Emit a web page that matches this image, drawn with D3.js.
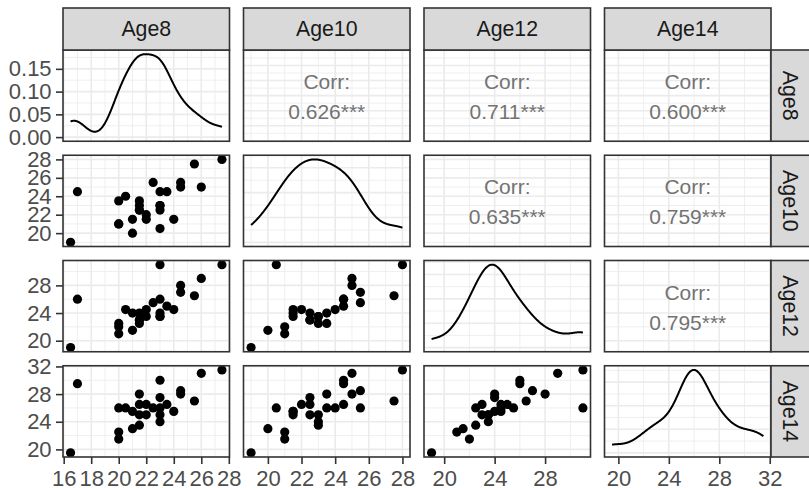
<!DOCTYPE html>
<html>
<head>
<meta charset="utf-8">
<script src="https://cdn.jsdelivr.net/npm/d3@7"></script>
<style>
  body { margin: 0; background: white; }
  text { font-family: "Liberation Sans", Arial, sans-serif; }
</style>
</head>
<body>
<div id="chart"></div>
<script>
// dental distance (mm) per subject at each age
const vars = ["Age8", "Age10", "Age12", "Age14"];
const age8  = [26, 21.5, 23, 25.5, 20, 24.5, 22, 24, 23, 27.5, 23, 21.5, 17, 22.5, 23, 22,
               21, 21, 20.5, 23.5, 21.5, 20, 21.5, 23, 20, 16.5, 24.5];
const age10 = [25, 22.5, 22.5, 27.5, 23.5, 25.5, 22, 21.5, 20.5, 28, 23, 23.5, 24.5, 25.5, 24.5, 21.5,
               20, 21.5, 24, 24.5, 23, 21, 22.5, 23, 21, 19, 25];
const age12 = [29, 23, 24, 26.5, 22.5, 27, 24.5, 24.5, 31, 31, 23.5, 24, 26, 25.5, 26, 23.5,
               21.5, 24, 24.5, 25, 22.5, 21, 23, 23.5, 22, 19, 28];
const age14 = [31, 26.5, 27.5, 27, 26, 28.5, 26.5, 25.5, 26, 31.5, 25, 28, 29.5, 26, 30, 25,
               23, 25.5, 26, 26.5, 23.5, 22.5, 25, 24, 21.5, 19.5, 28];
const series = [age8, age10, age12, age14];

// tick labels
const varTicks = [[16, 18, 20, 22, 24, 26, 28], [20, 22, 24, 26, 28], [20, 24, 28], [20, 24, 28, 32]];
const densTicks = [0, 0.05, 0.10, 0.15];
// upper triangle correlation labels, row by row
const corrLabels = [
  {row: 0, col: 1, text: "0.626***"},
  {row: 0, col: 2, text: "0.711***"},
  {row: 0, col: 3, text: "0.600***"},
  {row: 1, col: 2, text: "0.635***"},
  {row: 1, col: 3, text: "0.759***"},
  {row: 2, col: 3, text: "0.795***"}
];

const W = 809, H = 488;
const padLeft = 63, padTop = 50;
const pw = 166.5, ph = 91.25, gap = 14;
const n = vars.length;
const tickFont = 22, stripFont = 21.3, corrFont = 21;

const svg = d3.select("#chart").append("svg")
  .attr("width", W).attr("height", H);

// x scale per variable (ggplot 5% expansion)
function expanded(v) {
  const e = d3.extent(v), pad = (e[1] - e[0]) * 0.05;
  return [e[0] - pad, e[1] + pad];
}
const xScales = series.map((v, j) => d3.scaleLinear().domain(expanded(v))
  .range([padLeft + j * (pw + gap), padLeft + j * (pw + gap) + pw]));
const yScales = series.map((v, i) => d3.scaleLinear().domain(expanded(v))
  .range([padTop + i * (ph + gap) + ph, padTop + i * (ph + gap)]));

// kernel density, gaussian kernel with nrd0 bandwidth (like stat_density)
function density(v) {
  const s = v.slice().sort(d3.ascending);
  const iqr = d3.quantile(s, 0.75) - d3.quantile(s, 0.25);
  const bw = 0.9 * Math.min(d3.deviation(v), iqr / 1.34) * Math.pow(v.length, -0.2);
  const [lo, hi] = d3.extent(v);
  const out = [];
  for (let k = 0; k < 512; k++) {
    const x = lo + (hi - lo) * k / 511;
    const d = d3.mean(v, xi => Math.exp(-0.5 * ((x - xi) / bw) ** 2)) / (bw * Math.sqrt(2 * Math.PI));
    out.push([x, d]);
  }
  return out;
}

function minorOf(majors, dom) {
  const step = majors[1] - majors[0];
  const m = [];
  [majors[0] - step].concat(majors).forEach(t => {
    const v = t + step / 2;
    if (v >= dom[0] && v <= dom[1]) m.push(v);
  });
  return m;
}

function drawGrid(g, x, y, xt, yt) {
  const [x0, x1] = x.range(), [y1, y0] = y.range();
  g.append("rect").attr("x", x0).attr("y", y0).attr("width", x1 - x0).attr("height", y1 - y0)
    .attr("fill", "white");
  const xMin = minorOf(xt, x.domain()), yMin = minorOf(yt, y.domain());
  g.selectAll(null).data(xMin).join("line")
    .attr("x1", d => x(d)).attr("x2", d => x(d)).attr("y1", y0).attr("y2", y1)
    .attr("stroke", "#EBEBEB").attr("stroke-width", 0.8);
  g.selectAll(null).data(yMin).join("line")
    .attr("y1", d => y(d)).attr("y2", d => y(d)).attr("x1", x0).attr("x2", x1)
    .attr("stroke", "#EBEBEB").attr("stroke-width", 0.8);
  g.selectAll(null).data(xt.filter(t => t >= x.domain()[0] && t <= x.domain()[1])).join("line")
    .attr("x1", d => x(d)).attr("x2", d => x(d)).attr("y1", y0).attr("y2", y1)
    .attr("stroke", "#EBEBEB").attr("stroke-width", 1.6);
  g.selectAll(null).data(yt.filter(t => t >= y.domain()[0] && t <= y.domain()[1])).join("line")
    .attr("y1", d => y(d)).attr("y2", d => y(d)).attr("x1", x0).attr("x2", x1)
    .attr("stroke", "#EBEBEB").attr("stroke-width", 1.6);
}

function drawBorder(g, x, y) {
  const [x0, x1] = x.range(), [y1, y0] = y.range();
  g.append("rect").attr("x", x0).attr("y", y0).attr("width", x1 - x0).attr("height", y1 - y0)
    .attr("fill", "none").attr("stroke", "#333333").attr("stroke-width", 1.6);
}

const densScale = [];

for (let i = 0; i < n; i++) {
  for (let j = 0; j < n; j++) {
    const g = svg.append("g");
    const x = xScales[j];
    const clipId = `clip-${i}-${j}`;
    const [x0, x1] = x.range();
    const py0 = padTop + i * (ph + gap);
    svg.append("clipPath").attr("id", clipId).append("rect")
      .attr("x", x0).attr("y", py0).attr("width", x1 - x0).attr("height", ph);

    if (i === j) {
      const dens = density(series[j]);
      const maxD = d3.max(dens, d => d[1]);
      const y = d3.scaleLinear().domain([-maxD * 0.05, maxD * 1.05]).range([py0 + ph, py0]);
      const yt = i === 0 ? densTicks : y.ticks(4);
      densScale[i] = y;
      drawGrid(g, x, y, varTicks[j], yt);
      g.append("path").datum(dens)
        .attr("clip-path", `url(#${clipId})`)
        .attr("fill", "none").attr("stroke", "black").attr("stroke-width", 2)
        .attr("d", d3.line().x(d => x(d[0])).y(d => y(d[1])));
      drawBorder(g, x, y);
    } else if (i > j) {
      const y = yScales[i];
      drawGrid(g, x, y, varTicks[j], varTicks[i]);
      g.append("g").attr("clip-path", `url(#${clipId})`)
        .selectAll("circle").data(series[j].map((v, k) => [v, series[i][k]])).join("circle")
        .attr("cx", d => x(d[0])).attr("cy", d => y(d[1])).attr("r", 4.6).attr("fill", "black");
      drawBorder(g, x, y);
    } else {
      const y = yScales[i];
      drawGrid(g, x, y, varTicks[j], varTicks[i]);
      const lab = corrLabels.find(c => c.row === i && c.col === j);
      const cx = (x0 + x1) / 2, cy = py0 + ph / 2;
      g.append("text").attr("x", cx).attr("y", cy - 6.5).attr("text-anchor", "middle")
        .attr("font-size", corrFont).attr("fill", "#737373").text("Corr:");
      g.append("text").attr("x", cx).attr("y", cy + 23.5).attr("text-anchor", "middle")
        .attr("font-size", corrFont).attr("fill", "#737373").text(lab.text);
      drawBorder(g, x, y);
    }
  }
}

function styleAxis(a) {
  a.select(".domain").remove();
  a.selectAll(".tick line").attr("stroke", "#333333").attr("stroke-width", 1.6);
  a.selectAll(".tick text").attr("fill", "#4D4D4D").attr("font-size", tickFont)
    .style("font-family", "'Liberation Sans', Arial, sans-serif");
}

// left axes
for (let i = 0; i < n; i++) {
  const y = i === 0 ? densScale[0] : yScales[i];
  const ax = i === 0 ? d3.axisLeft(y).tickValues(densTicks).tickFormat(d3.format(".2f"))
                     : d3.axisLeft(y).tickValues(varTicks[i]).tickFormat(d3.format("d"));
  svg.append("g").attr("transform", `translate(${padLeft},0)`)
    .call(ax.tickSize(7).tickSizeOuter(0).tickPadding(4.4))
    .call(styleAxis);
}
// bottom axes
const bottom = padTop + (n - 1) * (ph + gap) + ph;
for (let j = 0; j < n; j++) {
  svg.append("g").attr("transform", `translate(0,${bottom})`)
    .call(d3.axisBottom(xScales[j]).tickValues(varTicks[j]).tickFormat(d3.format("d"))
      .tickSize(7).tickSizeOuter(0).tickPadding(6))
    .call(styleAxis);
}

// strips
for (let j = 0; j < n; j++) {
  const [x0, x1] = xScales[j].range();
  svg.append("rect").attr("x", x0).attr("y", 8).attr("width", x1 - x0).attr("height", padTop - 8)
    .attr("fill", "#D9D9D9").attr("stroke", "#333333").attr("stroke-width", 1.6);
  svg.append("text").attr("x", (x0 + x1) / 2).attr("y", (8 + padTop) / 2)
    .attr("dy", "0.35em").attr("text-anchor", "middle")
    .attr("font-size", stripFont).attr("fill", "#1A1A1A").text(vars[j]);
}
const sx = padLeft + n * (pw + gap) - gap;
for (let i = 0; i < n; i++) {
  const py0 = padTop + i * (ph + gap);
  svg.append("rect").attr("x", sx).attr("y", py0).attr("width", 42).attr("height", ph)
    .attr("fill", "#D9D9D9").attr("stroke", "#333333").attr("stroke-width", 1.6);
  svg.append("text").attr("transform", `translate(${sx + 19},${py0 + ph / 2}) rotate(90)`)
    .attr("dy", "0.35em").attr("text-anchor", "middle")
    .attr("font-size", stripFont).attr("fill", "#1A1A1A").text(vars[i]);
}
</script>
</body>
</html>
